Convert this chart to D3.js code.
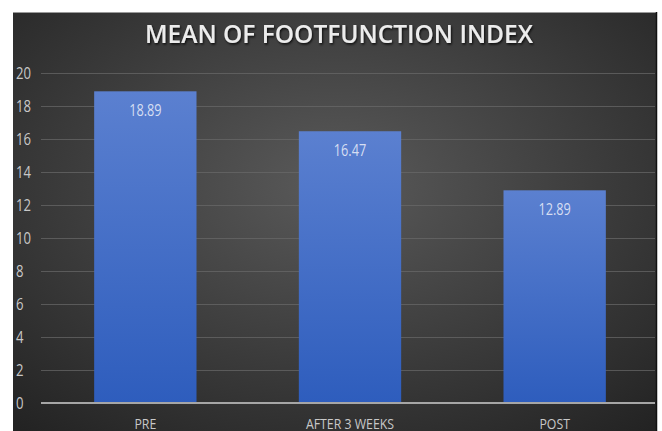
<!DOCTYPE html>
<html><head><meta charset="utf-8">
<script src="https://cdn.jsdelivr.net/npm/d3@7"></script>
<style>html,body{margin:0;padding:0;background:#fff;}svg{display:block;}</style>
</head><body>
<svg id="c" width="662" height="431"></svg>
<script>
const categories = ["PRE", "AFTER 3 WEEKS", "POST"];
const values = [18.89, 16.47, 12.89];
const valueLabels = ["18.89", "16.47", "12.89"];
const yTicks = [0, 2, 4, 6, 8, 10, 12, 14, 16, 18, 20];
const title = "MEAN OF FOOTFUNCTION INDEX";

const svg = d3.select("#c");
const defs = svg.append("defs");
const bg = defs.append("radialGradient").attr("id","bg")
  .attr("cx","0.5").attr("cy","0.4").attr("r","0.75");
bg.append("stop").attr("offset","0").attr("stop-color","#5a5a5a");
bg.append("stop").attr("offset","1").attr("stop-color","#232323");
const bar = defs.append("linearGradient").attr("id","bar").attr("x1",0).attr("y1",0).attr("x2",0).attr("y2",1);
bar.append("stop").attr("offset","0").attr("stop-color","#5b80d0");
bar.append("stop").attr("offset","1").attr("stop-color","#2e5dbd");
const sh = defs.append("filter").attr("id","sh").attr("x","-5%").attr("y","-20%").attr("width","110%").attr("height","150%");
sh.append("feDropShadow").attr("dx",1).attr("dy",1.5).attr("stdDeviation",1).attr("flood-color","#000").attr("flood-opacity",0.8);

svg.append("rect").attr("x",13).attr("y",12).attr("width",644).attr("height",430).attr("fill","url(#bg)");
svg.append("line").attr("x1",13).attr("x2",657).attr("y1",12.5).attr("y2",12.5).attr("stroke","#9a9a9a").attr("stroke-width",1);
svg.append("line").attr("x1",656.5).attr("x2",656.5).attr("y1",12).attr("y2",431).attr("stroke","#111").attr("stroke-width",1.5);

const font = "'Open Sans', 'Liberation Sans', sans-serif";
const condense = 0.82;
function squeeze(sel){ sel.each(function(){ const l=this.getComputedTextLength(); d3.select(this).attr("textLength",l*condense).attr("lengthAdjust","spacingAndGlyphs"); }); }

const x = d3.scaleBand().domain(categories).range([43, 657]).paddingInner(0.5).paddingOuter(0.25);
const y = d3.scaleLinear().domain([0, 20]).range([403, 73]);

svg.append("g").selectAll("line").data(yTicks.filter(d=>d>0)).join("line")
  .attr("x1",41).attr("x2",655).attr("y1",d=>y(d)+0.5).attr("y2",d=>y(d)+0.5)
  .attr("stroke","#6a6a6a").attr("stroke-width",1).attr("opacity",0.7);

const yAxis = d3.axisLeft(y).tickValues(yTicks).tickSize(0).tickPadding(0);
const gy = svg.append("g").attr("transform","translate(16,0)").call(yAxis);
gy.select(".domain").remove();
gy.selectAll("text").attr("text-anchor","start").attr("x",0).attr("fill","#c8c8c8")
  .style("font-family",font).style("font-size","16px").call(squeeze);

svg.append("g").selectAll("rect").data(values).join("rect")
  .attr("x",(d,i)=>x(categories[i])).attr("width",x.bandwidth())
  .attr("y",d=>y(d)).attr("height",d=>y(0)-y(d)).attr("fill","url(#bar)");

svg.append("g").selectAll("text").data(values).join("text")
  .attr("x",(d,i)=>x(categories[i])+x.bandwidth()/2).attr("y",d=>y(d)+25)
  .attr("text-anchor","middle").attr("fill","#d6def2")
  .style("font-family",font).style("font-size","15.5px")
  .text((d,i)=>valueLabels[i]).call(squeeze);

const xAxis = d3.axisBottom(x).tickSize(0).tickPadding(12);
const gx = svg.append("g").attr("transform",`translate(0,${y(0)})`).call(xAxis);
gx.select(".domain").remove();
gx.selectAll("text").attr("fill","#c8c8c8").attr("dy",null).attr("y",25.5).style("font-family",font).style("font-size","14px")
  .each(function(){ const l=this.getComputedTextLength(); d3.select(this).attr("textLength",l*0.88).attr("lengthAdjust","spacingAndGlyphs"); });
svg.append("line").attr("x1",41).attr("x2",655).attr("y1",y(0)).attr("y2",y(0))
  .attr("stroke","#a6a6a6").attr("stroke-width",2);

svg.append("text").attr("x",339).attr("y",42.5).attr("text-anchor","middle")
  .attr("fill","#ececec").style("font-family",font).style("font-size","25px").style("font-weight","600")
  .attr("filter","url(#sh)")
  .attr("textLength",388).attr("lengthAdjust","spacingAndGlyphs")
  .text(title);
</script>
</body></html>
